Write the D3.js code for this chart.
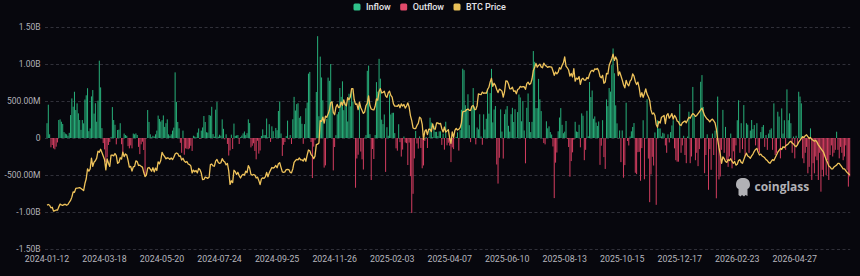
<!DOCTYPE html>
<html lang="en">
<head>
<meta charset="UTF-8">
<script src="https://d3js.org/d3.v7.min.js"></script>
<style>
    html, body {
        margin: 0;
        padding: 0;
        background: #07070d;
    }
    svg { display: block; }
    .yaxis text {
        font-family: Roboto, sans-serif;
        font-size: 8.5px;
        fill: #b2b2ba;
    }
    .xaxis text {
        font-family: Roboto, sans-serif;
        font-size: 8.8px;
        fill: #b6b6be;
    }
    .legend text {
        font-family: Roboto, sans-serif;
        font-size: 9px;
        font-weight: 500;
        fill: #e4e4e8;
    }
</style>
</head>
<body>
<svg id="chart"></svg>
<script>
// x tick labels, one every 44 trading days
const xTickLabels = ["2024-01-12", "2024-03-18", "2024-05-20", "2024-07-24", "2024-09-25", "2024-11-26",
    "2025-02-03", "2025-04-07", "2025-06-10", "2025-08-13", "2025-10-15", "2025-12-17", "2026-02-23", "2026-04-27"];
const labelStep = 44;

const yTicks = [1500, 1000, 500, 0, -500, -1000, -1500];
const yTickLabels = ["1.50B", "1.00B", "500.00M", "0", "-500.00M", "-1.00B", "-1.50B"];

// daily net flow, millions USD
const netFlow = [
    200,450,50,-126,-95,-140,-153,-117,-60,243,252,220,190,80,60,50,30,70,310,535,423,625,378,468,333,243,110,243,198,520,577,673,92,130,562,648,330,470,220,505,1045,684,133,-69,
    -154,-326,-262,-94,-53,15,418,243,179,-86,108,113,200,-84,-207,60,40,30,-110,-140,-100,-140,60,50,62,40,-120,-218,-85,-50,-162,-500,0,378,217,50,10,30,20,50,100,303,257,222,
    241,305,150,200,252,50,30,50,100,140,887,488,217,131,-65,-200,100,-226,-140,-146,-152,-140,-105,-175,31,20,11,73,129,-13,100,143,297,216,78,73,310,301,422,53,18,383,486,18,
    44,31,252,124,-18,50,-80,-237,-168,45,-148,195,29,35,40,-81,11,33,62,88,39,65,252,202,-127,-105,-71,-175,-288,-37,-211,-169,28,117,39,39,263,12,187,-53,158,92,4,136,
    106,365,494,61,-242,-92,-54,25,235,-18,40,-81,253,556,371,458,470,273,294,192,-79,188,402,479,870,893,-54,-541,-116,-30,622,1376,294,1100,818,510,-400,-370,256,816,773,1000,490,-438,
    -122,38,320,353,676,556,766,376,479,439,223,598,428,637,493,0,-672,-277,-226,475,-183,-288,-426,5,40,908,978,52,-568,-149,-284,40,755,626,1070,802,248,188,318,-458,146,30,588,318,
    340,341,66,-140,-171,186,-56,-251,-156,20,-60,-70,-365,-62,-516,-1014,-754,-276,95,-74,-143,22,-134,-409,-371,-40,13,-135,6,274,209,11,165,83,84,27,89,90,-93,60,-157,220,-99,-64,
    -103,-326,-127,-150,1,15,76,-170,107,381,936,917,443,380,591,173,-56,422,675,425,-86,142,117,321,21,-91,320,115,260,667,329,607,934,211,385,432,-358,-616,-267,387,87,-278,323,386,
    431,165,86,322,408,216,389,6,350,588,548,226,501,102,-342,408,602,216,80,218,1175,1030,403,403,799,523,364,0,-68,-86,226,131,157,80,47,-114,-812,-333,-196,91,277,404,178,65,
    86,230,-14,-122,-523,-312,-194,-23,219,88,81,179,-126,333,301,-300,-160,368,23,757,553,642,260,292,209,163,223,-363,-104,241,-258,-418,522,430,675,627,985,1210,875,441,198,-4,102,-326,
    102,-536,-366,477,-40,-101,20,90,149,202,-470,-488,-191,-187,-578,-137,240,-558,1,524,-278,-867,-492,-254,-372,75,-903,238,128,129,21,71,60,-100,-200,50,-60,80,170,240,-140,-300,-320,-320,
    460,-200,-100,30,-230,-340,20,355,-340,-250,690,300,-300,-200,-380,-150,760,850,420,-475,-230,50,-700,-150,-430,60,-230,100,-815,560,-560,-520,-160,380,-200,150,-300,-390,-250,60,-410,-180,-300,-100,
    240,510,-200,200,-150,445,-250,200,180,-200,100,243,120,175,-100,200,-160,-200,80,150,175,-120,40,-160,60,110,130,-160,468,-230,-200,355,290,-275,400,60,240,-160,657,240,333,200,-200,20,
    -275,30,-100,625,560,468,-275,-340,-200,-120,-477,-390,130,-567,-340,-477,-250,-300,-567,-200,-725,-430,-520,-250,-500,-300,-567,-230,-100,-250,-200,-160,85,-160,-275,-120,-200,-300,-250,-100,-430,-657,-520
];

// BTC price, thousands USD
const btcPrice = [
    42.8,43.1,42.7,41.3,41.6,39.5,39.8,40.1,40.0,41.8,43.3,42.9,42.6,43.1,43.2,42.7,43.1,44.3,45.3,47.1,50.0,49.7,51.8,52.0,52.1,52.3,51.8,51.3,50.7,54.5,57.1,62.5,61.2,62.4,68.3,63.8,66.1,66.9,68.3,72.1,71.5,73.1,71.4,69.5,
    67.6,61.9,67.9,65.5,63.8,69.9,69.9,69.5,70.8,69.7,65.5,66.0,68.5,67.8,71.6,69.1,70.6,70.0,67.1,63.4,63.8,61.3,63.5,63.8,66.8,66.4,64.3,64.5,63.8,63.4,60.6,58.3,59.1,62.9,63.2,62.3,61.2,63.1,60.8,62.9,61.6,66.3,65.2,67.0,
    71.4,70.1,69.1,67.9,68.5,68.3,67.6,68.4,67.5,68.8,70.5,71.1,70.8,69.3,69.5,67.3,68.2,66.7,66.0,66.5,65.1,64.8,64.1,60.3,61.8,60.9,61.6,60.3,62.7,62.0,60.2,56.6,56.7,58.0,57.7,57.3,57.9,64.8,65.1,64.1,63.9,66.7,67.6,65.9,
    65.4,65.8,68.0,66.8,66.2,64.6,65.4,61.4,54.0,56.0,55.0,61.7,60.9,59.4,60.6,58.7,57.5,58.9,59.5,59.0,61.2,60.4,64.2,62.9,59.5,59.0,59.4,59.1,57.5,58.0,56.2,53.9,57.0,57.6,57.3,58.1,60.5,58.2,60.3,61.8,63.2,62.9,63.3,64.3,
    63.1,65.2,65.8,63.3,60.8,60.6,60.8,62.1,62.2,62.1,60.6,60.3,62.4,66.0,67.0,67.6,67.4,68.4,67.4,67.4,66.7,68.2,66.6,69.9,72.7,72.3,70.2,69.5,68.0,69.4,75.6,75.9,76.5,88.7,88.3,90.6,87.3,91.1,90.5,92.3,94.3,98.4,98.9,93.1,
    91.9,95.9,97.5,95.8,96.0,98.8,97.0,99.9,97.4,96.7,101.2,100.0,101.5,106.1,106.1,100.0,97.5,97.8,94.7,98.7,95.8,94.2,92.6,93.4,96.9,98.1,102.1,96.9,95.0,94.7,94.5,96.5,100.5,99.8,104.5,106.1,103.7,104.0,104.7,102.1,101.3,103.7,104.7,102.4,
    101.4,97.8,96.6,96.6,96.5,97.4,95.7,97.8,96.6,97.5,95.5,96.6,98.3,96.1,91.4,88.7,84.7,84.3,84.4,86.1,87.2,90.6,89.9,86.7,78.5,82.9,83.7,81.1,84.0,84.0,82.7,86.9,84.2,84.0,87.5,87.4,86.9,87.2,84.3,82.5,85.2,82.5,83.1,83.8,
    79.2,76.3,82.6,79.6,83.4,84.5,83.6,84.0,84.9,87.5,93.4,93.7,93.9,94.7,95.0,94.3,94.2,96.5,96.9,94.8,94.7,96.8,103.2,102.9,102.8,104.2,103.5,103.7,103.5,105.6,106.8,109.7,111.7,107.3,109.0,107.8,105.6,103.9,105.8,105.4,104.7,101.5,104.4,110.3,
    110.2,108.6,105.9,106.0,106.8,104.6,104.9,103.3,105.6,106.0,107.3,106.9,107.1,107.1,105.7,108.8,109.6,108.3,108.9,111.3,115.9,117.5,119.8,117.7,118.7,119.4,117.9,117.4,119.9,118.8,118.3,117.6,118.0,117.9,117.8,115.8,113.3,115.1,114.1,115.0,117.5,116.7,118.7,120.1,
    123.3,118.3,117.4,116.2,112.9,114.3,112.4,116.9,110.1,111.8,111.2,112.6,108.4,111.2,111.7,110.7,110.7,112.1,111.5,113.9,115.5,116.0,115.4,116.8,116.5,117.1,115.7,112.7,112.0,113.3,109.0,109.7,114.4,114.0,118.6,120.6,122.3,124.8,121.4,123.3,121.7,113.2,115.2,113.1,
    110.8,108.2,106.5,110.6,108.5,107.6,110.1,111.0,114.1,112.9,110.0,108.3,109.6,106.5,101.6,103.9,101.3,103.4,105.9,103.1,101.7,99.7,94.5,92.2,92.9,91.5,86.6,85.1,88.3,87.4,90.5,90.9,91.5,87.0,91.5,92.5,90.0,91.0,92.5,89.5,91.5,90.5,88.5,88.0,
    86.5,86.0,87.5,88.0,88.5,87.5,89.0,90.5,90.0,91.5,92.5,92.0,91.0,91.5,92.5,93.5,94.5,95.5,93.5,91.5,90.5,89.5,89.0,88.0,89.0,89.5,88.5,87.5,84.0,78.5,74.0,70.5,65.5,69.0,68.0,66.5,66.0,67.5,67.0,68.0,66.5,65.5,66.5,64.5,
    65.0,67.0,67.5,66.0,65.5,67.5,69.5,71.0,69.5,69.0,68.2,69.5,70.5,72.0,73.0,73.6,71.5,70.0,70.5,69.5,69.0,68.5,67.5,67.0,66.0,65.5,66.5,67.5,67.0,68.5,70.0,71.5,72.5,73.5,73.0,74.5,74.0,75.0,75.5,76.0,77.0,77.5,76.5,76.0,
    75.0,74.5,75.5,77.0,78.0,79.0,80.0,79.5,80.5,81.0,80.0,79.0,79.5,78.5,78.0,77.5,78.0,77.0,75.5,74.5,73.5,72.5,71.5,69.5,67.5,66.0,64.0,63.5,62.5,62.5,63.5,64.0,64.5,65.5,65.5,64.5,63.5,62.5,62.5,61.5,60.5,60.0,59.0
];

const legendItems = [
    { name: "Inflow", color: "#2fc28a" },
    { name: "Outflow", color: "#e24a6b" },
    { name: "BTC Price", color: "#e9c158" }
];

const width = 860;
const height = 276;
const plot = { left: 46.5, right: 850.2, top: 27, bottom: 249 };
const gridLeft = 45;

const svg = d3.select("#chart")
    .attr("width", width)
    .attr("height", height);

svg.append("rect")
    .attr("width", width)
    .attr("height", height)
    .attr("fill", "#07070d");

const x = d3.scaleBand()
    .domain(d3.range(netFlow.length))
    .range([plot.left, plot.right])
    .paddingInner(0.22);

const y = d3.scaleLinear()
    .domain([-1500, 1500])
    .range([plot.bottom, plot.top]);

// price sits on a hidden right axis
const yPrice = d3.scaleLinear()
    .domain([30, 130])
    .range([228.6, 44.6]);

// grid lines + y labels
const yAxis = svg.append("g")
    .attr("class", "yaxis")
    .attr("transform", `translate(${gridLeft},0)`)
    .call(d3.axisLeft(y)
        .tickValues(yTicks)
        .tickFormat((d, i) => yTickLabels[i])
        .tickSize(-(plot.right - gridLeft))
        .tickPadding(4.5));
yAxis.select(".domain").remove();
yAxis.selectAll("line")
    .attr("stroke", "#3b3b45")
    .attr("stroke-width", 0.8)
    .attr("stroke-dasharray", "3,2.5");

// x labels
const xAxis = svg.append("g")
    .attr("class", "xaxis")
    .attr("transform", `translate(0,${plot.bottom})`)
    .call(d3.axisBottom(x)
        .tickValues(xTickLabels.map((d, i) => i * labelStep))
        .tickFormat(d => xTickLabels[d / labelStep])
        .tickSize(0)
        .tickPadding(6.5));
xAxis.select(".domain").remove();

// bars
svg.append("g")
    .selectAll("rect")
    .data(netFlow)
    .join("rect")
    .attr("x", (d, i) => x(i))
    .attr("width", x.bandwidth())
    .attr("y", d => y(Math.max(0, d)))
    .attr("height", d => Math.abs(y(d) - y(0)))
    .attr("fill", d => d >= 0 ? "#27ad78" : "#cf3c5e");

// watermark
const wm = svg.append("g").attr("opacity", 0.85);
wm.append("path")
    .attr("d", "M736,185 C736,179.5 739.5,178 743,178 C746.5,178 750,179.5 750,185 C750,187.5 748.5,188.5 747.5,189 L747.5,196 L745.5,195 L744,196.5 L742,195 L740.5,196.5 L738.5,195 L738.5,189 C737.5,188.5 736,187.5 736,185 Z")
    .attr("fill", "#cfcfd3");
wm.append("text")
    .attr("x", 754.5)
    .attr("y", 190.5)
    .attr("font-family", "'Open Sans', sans-serif")
    .attr("font-size", 12)
    .attr("font-weight", 700)
    .attr("fill", "#cfcfd3")
    .text("coinglass");

// price line
const line = d3.line()
    .x((d, i) => x(i) + x.bandwidth() / 2)
    .y(d => yPrice(d));

svg.append("path")
    .datum(btcPrice)
    .attr("fill", "none")
    .attr("stroke", "#efc35b")
    .attr("stroke-width", 1.3)
    .attr("stroke-linejoin", "round")
    .attr("d", line);

// legend
const legend = svg.append("g").attr("class", "legend");
let lx = 353.5;
legendItems.forEach(item => {
    legend.append("rect")
        .attr("x", lx)
        .attr("y", 3.5)
        .attr("width", 7)
        .attr("height", 7)
        .attr("rx", 1.5)
        .attr("fill", item.color);
    const t = legend.append("text")
        .attr("x", lx + 12.5)
        .attr("y", 10.2)
        .text(item.name);
    lx += 12.5 + t.node().getComputedTextLength() + 9.5;
});
</script>
</body>
</html>
